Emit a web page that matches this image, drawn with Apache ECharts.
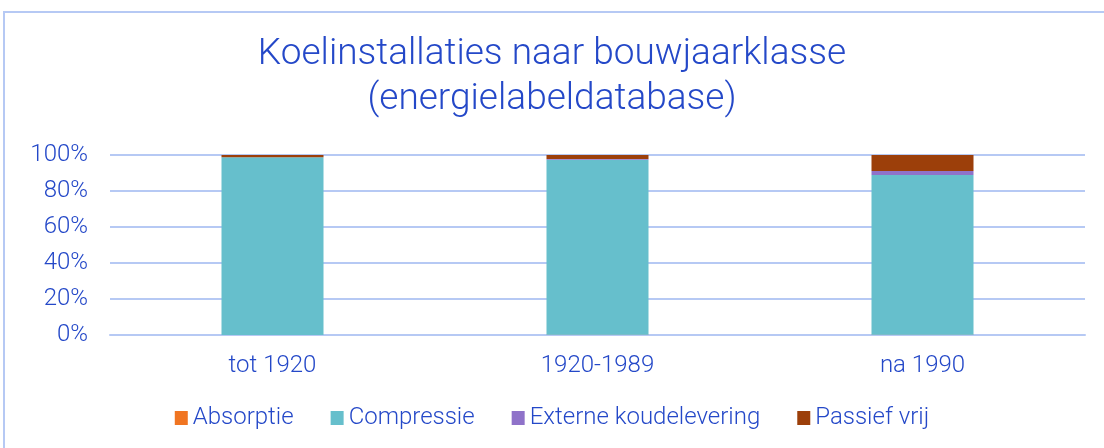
<!DOCTYPE html>
<html lang="nl">
<head>
    <meta charset="UTF-8">
    <title>Koelinstallaties naar bouwjaarklasse</title>
    <script src="https://cdn.jsdelivr.net/npm/echarts@6/dist/echarts.min.js"></script>
    <style>
        html, body { margin: 0; padding: 0; background: #fff; }
        #main { width: 1104px; height: 448px; }
    </style>
</head>
<body>
    <div id="main"></div>
<script>
    // data
    var categories = ['tot 1920', '1920-1989', 'na 1990'];
    var absorptie = [0.0, 0.1, 0.1];
    var compressie = [98.7, 97.3, 88.8];
    var externe = [0.1, 0.4, 2.2];
    var passief = [1.2, 2.2, 8.9];
    var yTicks = [0, 20, 40, 60, 80, 100];

    var blue = '#2448c8';
    var gridBlue = '#b6c9f4';
    var font = 'Roboto';

    var myChart = echarts.init(document.getElementById('main'));

    function bar(name, data, color) {
        return {
            name: name,
            type: 'bar',
            stack: 'total',
            barWidth: 102,
            data: data,
            itemStyle: { color: color }
        };
    }

    var option = {
        animation: false,
        title: {
            text: 'Koelinstallaties naar bouwjaarklasse\n(energielabeldatabase)',
            left: 'center',
            top: 27,
            textStyle: {
                color: blue,
                fontFamily: font,
                fontWeight: 300,
                fontSize: 37,
                lineHeight: 45
            }
        },
        graphic: [{
            type: 'rect',
            shape: { x: 4, y: 12, width: 1300, height: 600 },
            style: { fill: 'none', stroke: gridBlue, lineWidth: 2 }
        }],
        legend: {
            bottom: 13,
            left: 'center',
            itemWidth: 13,
            itemHeight: 14,
            itemGap: 37,
            icon: 'rect',
            textStyle: { color: blue, fontFamily: font, fontWeight: 300, fontSize: 24 },
            data: ['Absorptie', 'Compressie', 'Externe koudelevering', 'Passief vrij']
        },
        grid: { left: 110, right: 19, top: 155, bottom: 113 },
        xAxis: {
            type: 'category',
            data: categories,
            axisLine: { lineStyle: { color: gridBlue, width: 2 } },
            axisTick: { show: false },
            axisLabel: { color: blue, fontFamily: font, fontWeight: 300, fontSize: 24, margin: 19 }
        },
        yAxis: {
            type: 'value',
            min: 0,
            max: 100,
            interval: 20,
            axisLine: { show: false },
            axisTick: { show: false },
            axisLabel: {
                color: blue, fontFamily: font, fontWeight: 300, fontSize: 24, margin: 22,
                formatter: function (v) { return yTicks.indexOf(v) >= 0 ? v + '%' : ''; }
            },
            splitLine: { lineStyle: { color: gridBlue, width: 2 } }
        },
        series: [
            bar('Absorptie', absorptie, '#f07522'),
            bar('Compressie', compressie, '#66bfcc'),
            bar('Externe koudelevering', externe, '#8f72c9'),
            bar('Passief vrij', passief, '#9c3f0a')
        ]
    };

    myChart.setOption(option);
</script>
</body>
</html>
